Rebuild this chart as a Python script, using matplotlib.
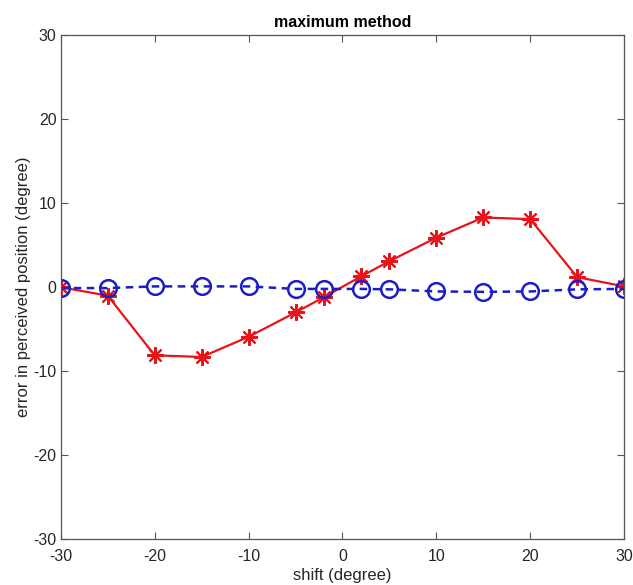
import matplotlib
matplotlib.use('Agg')
import matplotlib.pyplot as plt

# data
shift = [-30, -25, -20, -15, -10, -5, -2, 2, 5, 10, 15, 20, 25, 30]
err_red = [0.0, -1.0, -8.1, -8.3, -5.9, -3.0, -1.2, 1.3, 3.1, 5.9, 8.3, 8.1, 1.2, 0.1]
err_blue = [-0.1, -0.1, 0.1, 0.1, 0.1, -0.2, -0.2, -0.2, -0.25, -0.5, -0.55, -0.5, -0.25, -0.2]

xticks = [-30, -20, -10, 0, 10, 20, 30]
yticks = [-30, -20, -10, 0, 10, 20, 30]

plt.rcParams['font.family'] = ['Liberation Sans', 'DejaVu Sans']
plt.rcParams['axes.unicode_minus'] = False

fig = plt.figure(figsize=(6.33, 5.85), dpi=100)
ax = fig.add_axes([0.096, 0.078, 0.89, 0.862])

ax.plot(shift, err_red, '-', color='#e8141a', lw=1.6,
        marker=(8, 2, 0), ms=12, mew=1.5)
ax.plot(shift, err_blue, color='#1c1cc8', lw=1.8, dashes=(3, 2.2),
        marker='o', ms=12, mfc='none', mew=1.8)

ax.set_xlim(-30, 30)
ax.set_ylim(-30, 30)
ax.set_xticks(xticks)
ax.set_yticks(yticks)

for s in ax.spines.values():
    s.set_color('#555555')
    s.set_linewidth(0.9)
ax.tick_params(direction='in', length=5, width=0.8, color='#555555',
               labelsize=11.5, labelcolor='#262626',
               top=True, right=True)
ax.tick_params(axis='x', pad=7)
ax.tick_params(axis='y', pad=3)

ax.set_title('maximum method', fontsize=11.5, fontweight='bold', pad=6)
ax.set_xlabel('shift (degree)', fontsize=12, color='#262626', labelpad=3)
ax.set_ylabel('error in perceived position (degree)', fontsize=12,
              color='#262626', labelpad=2)

fig.savefig('out.png', dpi=100)
